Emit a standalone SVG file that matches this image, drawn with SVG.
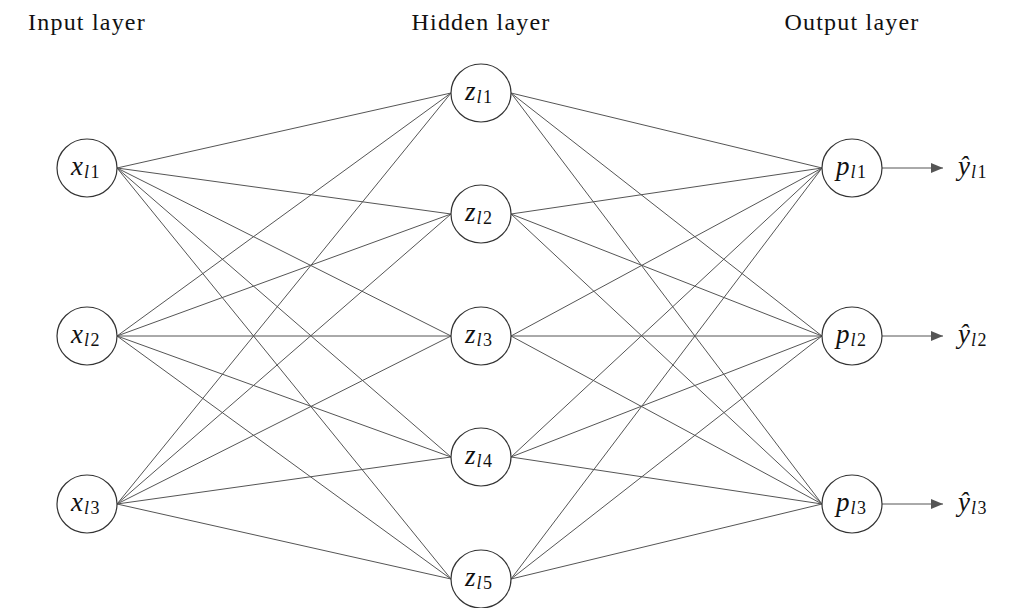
<svg xmlns="http://www.w3.org/2000/svg" width="1027" height="608" viewBox="0 0 1027 608">
<style>
.title{font-family:"Liberation Serif",serif;font-size:24px;letter-spacing:1.2px;fill:#111;text-anchor:middle}
.node ellipse{fill:#fff;stroke:#333;stroke-width:1.2}
.lbl{font-family:"Liberation Serif","DejaVu Serif",serif;font-size:27px;fill:#111;font-style:italic}
.sub{font-size:18px;letter-spacing:1.5px}
.up{font-style:normal}
.conn line{stroke:#555;stroke-width:1}
</style>
<defs>
<marker id="arr" markerWidth="12" markerHeight="10" refX="12" refY="5" orient="auto" markerUnits="userSpaceOnUse">
<path d="M0,0 L12,5 L0,10 Z" fill="#555"/>
</marker>
</defs>
<rect width="1027" height="608" fill="#fff"/>
<text class="title" x="87" y="30">Input layer</text>
<text class="title" x="481" y="30">Hidden layer</text>
<text class="title" x="852" y="30">Output layer</text>
<g id="connectors" class="conn">
<line x1="117" y1="168" x2="451" y2="93"/><line x1="117" y1="168" x2="451" y2="214"/><line x1="117" y1="168" x2="451" y2="336"/><line x1="117" y1="168" x2="451" y2="457"/><line x1="117" y1="168" x2="451" y2="579"/>
<line x1="117" y1="336" x2="451" y2="93"/><line x1="117" y1="336" x2="451" y2="214"/><line x1="117" y1="336" x2="451" y2="336"/><line x1="117" y1="336" x2="451" y2="457"/><line x1="117" y1="336" x2="451" y2="579"/>
<line x1="117" y1="504" x2="451" y2="93"/><line x1="117" y1="504" x2="451" y2="214"/><line x1="117" y1="504" x2="451" y2="336"/><line x1="117" y1="504" x2="451" y2="457"/><line x1="117" y1="504" x2="451" y2="579"/>
<line x1="511" y1="93" x2="822" y2="168"/><line x1="511" y1="93" x2="822" y2="336"/><line x1="511" y1="93" x2="822" y2="504"/>
<line x1="511" y1="214" x2="822" y2="168"/><line x1="511" y1="214" x2="822" y2="336"/><line x1="511" y1="214" x2="822" y2="504"/>
<line x1="511" y1="336" x2="822" y2="168"/><line x1="511" y1="336" x2="822" y2="336"/><line x1="511" y1="336" x2="822" y2="504"/>
<line x1="511" y1="457" x2="822" y2="168"/><line x1="511" y1="457" x2="822" y2="336"/><line x1="511" y1="457" x2="822" y2="504"/>
<line x1="511" y1="579" x2="822" y2="168"/><line x1="511" y1="579" x2="822" y2="336"/><line x1="511" y1="579" x2="822" y2="504"/>
<line x1="882" y1="168" x2="943" y2="168" marker-end="url(#arr)"/>
<line x1="882" y1="336" x2="943" y2="336" marker-end="url(#arr)"/>
<line x1="882" y1="504" x2="943" y2="504" marker-end="url(#arr)"/>
</g>
<g id="x1" class="node"><ellipse cx="87" cy="168" rx="30" ry="29"/><text class="lbl" x="71" y="175">x<tspan class="sub" dx="1" dy="3">l<tspan class="up">1</tspan></tspan></text></g>
<g id="x2" class="node"><ellipse cx="87" cy="336" rx="30" ry="29"/><text class="lbl" x="71" y="343">x<tspan class="sub" dx="1" dy="3">l<tspan class="up">2</tspan></tspan></text></g>
<g id="x3" class="node"><ellipse cx="87" cy="504" rx="30" ry="29"/><text class="lbl" x="71" y="511">x<tspan class="sub" dx="1" dy="3">l<tspan class="up">3</tspan></tspan></text></g>
<g id="z1" class="node"><ellipse cx="481" cy="93" rx="30" ry="29"/><text class="lbl" x="465" y="100">z<tspan class="sub" dx="1" dy="3">l<tspan class="up">1</tspan></tspan></text></g>
<g id="z2" class="node"><ellipse cx="481" cy="214" rx="30" ry="29"/><text class="lbl" x="465" y="221">z<tspan class="sub" dx="1" dy="3">l<tspan class="up">2</tspan></tspan></text></g>
<g id="z3" class="node"><ellipse cx="481" cy="336" rx="30" ry="29"/><text class="lbl" x="465" y="343">z<tspan class="sub" dx="1" dy="3">l<tspan class="up">3</tspan></tspan></text></g>
<g id="z4" class="node"><ellipse cx="481" cy="457" rx="30" ry="29"/><text class="lbl" x="465" y="464">z<tspan class="sub" dx="1" dy="3">l<tspan class="up">4</tspan></tspan></text></g>
<g id="z5" class="node"><ellipse cx="481" cy="579" rx="30" ry="29"/><text class="lbl" x="465" y="586">z<tspan class="sub" dx="1" dy="3">l<tspan class="up">5</tspan></tspan></text></g>
<g id="p1" class="node"><ellipse cx="852" cy="168" rx="30" ry="29"/><text class="lbl" x="836" y="175">p<tspan class="sub" dx="1" dy="3">l<tspan class="up">1</tspan></tspan></text></g>
<g id="p2" class="node"><ellipse cx="852" cy="336" rx="30" ry="29"/><text class="lbl" x="836" y="343">p<tspan class="sub" dx="1" dy="3">l<tspan class="up">2</tspan></tspan></text></g>
<g id="p3" class="node"><ellipse cx="852" cy="504" rx="30" ry="29"/><text class="lbl" x="836" y="511">p<tspan class="sub" dx="1" dy="3">l<tspan class="up">3</tspan></tspan></text></g>
<g id="y1"><text class="lbl" x="958" y="175">ŷ<tspan class="sub" dx="1" dy="3">l<tspan class="up">1</tspan></tspan></text></g>
<g id="y2"><text class="lbl" x="958" y="343">ŷ<tspan class="sub" dx="1" dy="3">l<tspan class="up">2</tspan></tspan></text></g>
<g id="y3"><text class="lbl" x="958" y="511">ŷ<tspan class="sub" dx="1" dy="3">l<tspan class="up">3</tspan></tspan></text></g>
</svg>
